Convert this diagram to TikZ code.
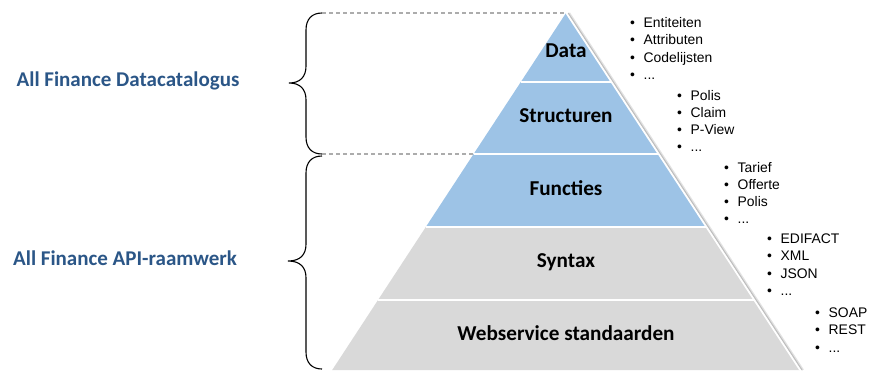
\documentclass[tikz,border=0pt]{standalone}
\usepackage{fontspec}
\setmainfont{Carlito}
\newfontfamily\arialf{Liberation Sans}
\definecolor{bandblue}{HTML}{9DC3E6}
\definecolor{bandgrey}{HTML}{D9D9D9}
\definecolor{labelblue}{HTML}{2B5687}
\newcommand\blt{\makebox[13.5pt][l]{\textbullet}}
\newcommand\blist[1]{\begin{tabular}[t]{@{}l@{}}#1\end{tabular}}
\begin{document}
\begin{tikzpicture}[x=1pt,y=-1pt,
  bandlabel/.style={font=\bfseries\fontsize{21.2}{24}\selectfont, anchor=base, inner sep=0pt},
  sidelabel/.style={font=\bfseries\fontsize{21}{24}\selectfont, text=labelblue, anchor=base, inner sep=0pt},
  listnode/.style={font=\arialf\fontsize{13.9}{17.3}\selectfont, anchor=base west, inner sep=0pt},
  guide/.style={draw=gray!65, line width=1.1pt, dash pattern=on 4pt off 3pt},
  bracepath/.style={draw=black, line width=1.1pt},
  separator/.style={draw=white, line width=1.6pt}]
\useasboundingbox (0,0) rectangle (870,373);
% pyramid corners
\coordinate (apex) at (566,13);
\coordinate (L1) at (520.8,82);  \coordinate (R1) at (611.2,82);
\coordinate (L2) at (473.6,154); \coordinate (R2) at (658.4,154);
\coordinate (L3) at (425.8,227); \coordinate (R3) at (706.2,227);
\coordinate (L4) at (378,300);   \coordinate (R4) at (754,300);
\coordinate (L5) at (332.2,370); \coordinate (R5) at (799.8,370);
% shadow on right edge
\draw[gray!22, line width=2pt] ([xshift=3.2pt]apex) -- ([xshift=3.2pt]R5);
\draw[gray!50, line width=1.1pt] ([xshift=2.2pt]apex) -- ([xshift=2.2pt]R5);
% bands
\fill[bandblue] (apex) -- (R1) -- (L1) -- cycle;
\fill[bandblue] (L1) -- (R1) -- (R2) -- (L2) -- cycle;
\fill[bandblue] (L2) -- (R2) -- (R3) -- (L3) -- cycle;
\fill[bandgrey] (L3) -- (R3) -- (R4) -- (L4) -- cycle;
\fill[bandgrey] (L4) -- (R4) -- (R5) -- (L5) -- cycle;
\draw[separator] (L1) -- (R1);
\draw[separator] (L2) -- (R2);
\draw[separator] (L3) -- (R3);
\draw[separator] (L4) -- (R4);
\draw[draw=white, line width=1.2pt] (apex) -- (R5);
% band labels
\node[bandlabel] (data)   at (566,57.3)  {Data};
\node[bandlabel] (struct) at (566,122.7) {Structuren};
\node[bandlabel] (func)   at (566,195.7) {Functies};
\node[bandlabel] (syn)    at (566,267)   {Syntax};
\node[bandlabel] (web)    at (566,340.7) {Webservice standaarden};
% braces
\coordinate (b1top) at (322,13);
\coordinate (b1bot) at (322,154);
\coordinate (b2top) at (322,156);
\coordinate (b2bot) at (322,369);
\draw[bracepath] (b1top) .. controls (312,13) and (306,19) .. (306,30) -- (306,66)
  .. controls (306,77) and (300,83) .. (289,83)
  .. controls (300,83) and (306,89) .. (306,100) -- (306,137)
  .. controls (306,148) and (312,154) .. (b1bot);
\draw[bracepath] (b2top) .. controls (312,156) and (306,162) .. (306,173) -- (306,244)
  .. controls (306,255) and (300,261) .. (288,261)
  .. controls (300,261) and (306,267) .. (306,278) -- (306,352)
  .. controls (306,363) and (312,369) .. (b2bot);
% dashed guides
\draw[guide] (b1top) -- (apex);
\draw[guide] (b1bot) -- (L2);
% side labels
\node[sidelabel] (catalog) at (128,86.7)  {All Finance Datacatalogus};
\node[sidelabel] (api)     at (125,265.7) {All Finance API-raamwerk};
% lists
\node[listnode] (ldata) at (630,27.5) {\blist{\blt Entiteiten\\ \blt Attributen\\ \blt Codelijsten\\ \blt ...}};
\node[listnode] (lstruct) at (677,100) {\blist{\blt Polis\\ \blt Claim\\ \blt P-View\\ \blt ...}};
\node[listnode] (lfunc) at (724,172) {\blist{\blt Tarief\\ \blt Offerte\\ \blt Polis\\ \blt ...}};
\node[listnode] (lsyn) at (767,243.5) {\blist{\blt EDIFACT\\ \blt XML\\ \blt JSON\\ \blt ...}};
\node[listnode] (lweb) at (815,317.5) {\blist{\blt SOAP\\ \blt REST\\ \blt ...}};
\end{tikzpicture}
\end{document}
